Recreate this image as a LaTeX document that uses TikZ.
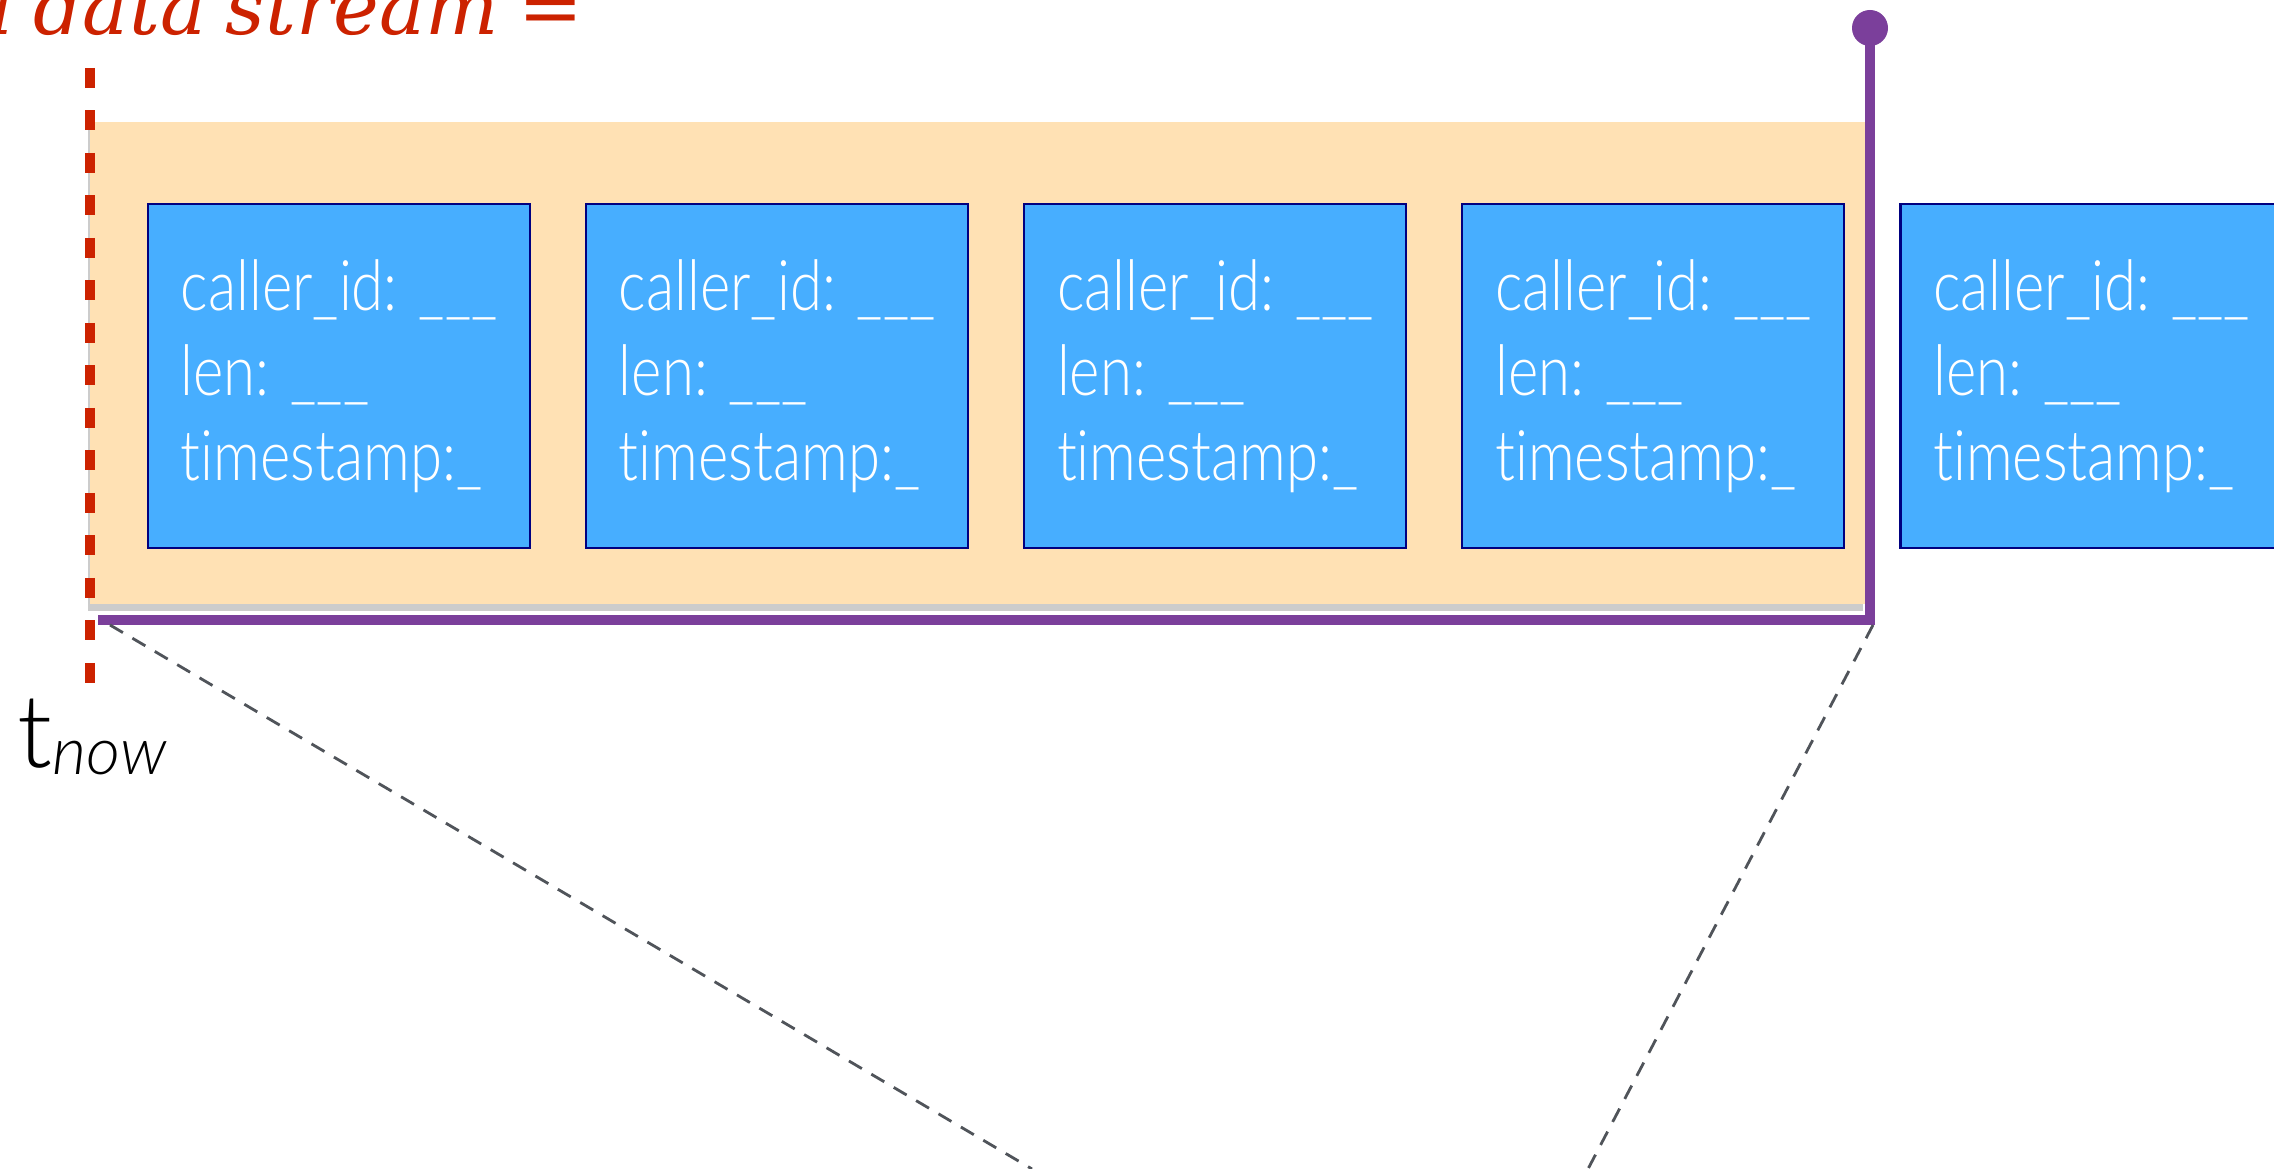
\documentclass[tikz,border=0pt]{standalone}
\usepackage{fontspec}
\usetikzlibrary{positioning,shadows}
\newfontfamily\boxfont[FakeStretch=0.83,Ligatures=NoCommon]{Lato Light}
\newfontfamily\tfont[Ligatures=NoCommon]{Lato Light}
\newfontfamily\titlefont[WordSpace=0.8]{DejaVu Serif}
\definecolor{streamred}{RGB}{204,34,0}
\definecolor{winfill}{RGB}{255,225,180}
\definecolor{recblue}{RGB}{71,174,255}
\definecolor{recedge}{RGB}{0,0,128}
\definecolor{winpurple}{RGB}{123,63,155}
\definecolor{zoomgray}{RGB}{80,84,90}
\begin{document}
\begin{tikzpicture}[x=0.1mm,y=-0.1mm,
	record/.style={draw=recedge, line width=0.6pt, fill=recblue, text=white, minimum width=3.82cm, minimum height=3.44cm, align=left, font=\boxfont\fontsize{19.9}{24.2}\selectfont},
	window/.style={fill=winfill, minimum width=17.75cm, minimum height=4.82cm, inner sep=0pt, drop shadow={shadow xshift=-0.02cm, shadow yshift=-0.07cm, fill=black, opacity=0.2}},
	nowline/.style={streamred, line width=3.1pt, dash pattern=on 0.2cm off 0.225cm},
	winline/.style={winpurple, line width=2.85pt},
	zoomline/.style={zoomgray, line width=0.8pt, dash pattern=on 0.15cm off 0.11cm}]
	\useasboundingbox (0,0) rectangle (2274,1169);
	\node[window, anchor=north west] (win) at (89,121) {};
	\node[record, anchor=north west] (r1) at (147,203) {caller\_id: \_\_\_\\len: \_\_\_\\timestamp:\_};
	\node[record, right=0.54cm of r1] (r2) {caller\_id: \_\_\_\\len: \_\_\_\\timestamp:\_};
	\node[record, right=0.54cm of r2] (r3) {caller\_id: \_\_\_\\len: \_\_\_\\timestamp:\_};
	\node[record, right=0.54cm of r3] (r4) {caller\_id: \_\_\_\\len: \_\_\_\\timestamp:\_};
	\node[record, right=0.54cm of r4] (r5) {caller\_id: \_\_\_\\len: \_\_\_\\timestamp:\_};
	\node[circle, fill=winpurple, minimum size=0.36cm, inner sep=0pt] (pin) at (1870,28) {};
	\coordinate (corner) at (1870,620);
	\coordinate (winend) at (98,620);
	\draw[winline] (pin.center) -- (corner) -- (winend);
	\coordinate (nowtop) at (90,68);
	\coordinate (nowbot) at (90,683);
	\draw[nowline] (nowtop) -- (nowbot);
	\coordinate (zl1) at (110,625);
	\coordinate (zl2) at (1032,1169);
	\coordinate (zr1) at (1873,625);
	\coordinate (zr2) at (1588,1169);
	\draw[zoomline] (zl1) -- (zl2);
	\draw[zoomline] (zr1) -- (zr2);
	\node[anchor=base east, text=streamred, inner sep=0pt, font=\titlefont\itshape\fontsize{22}{27}\selectfont] (title) at (584,35) {a data stream =};
	\node[anchor=base west, inner sep=0pt, font=\tfont\fontsize{29}{32}\selectfont] (tnow) at (17,768) {t\raisebox{-0.07cm}{\fontsize{18.8}{20}\selectfont\itshape now}};
\end{tikzpicture}
\end{document}
